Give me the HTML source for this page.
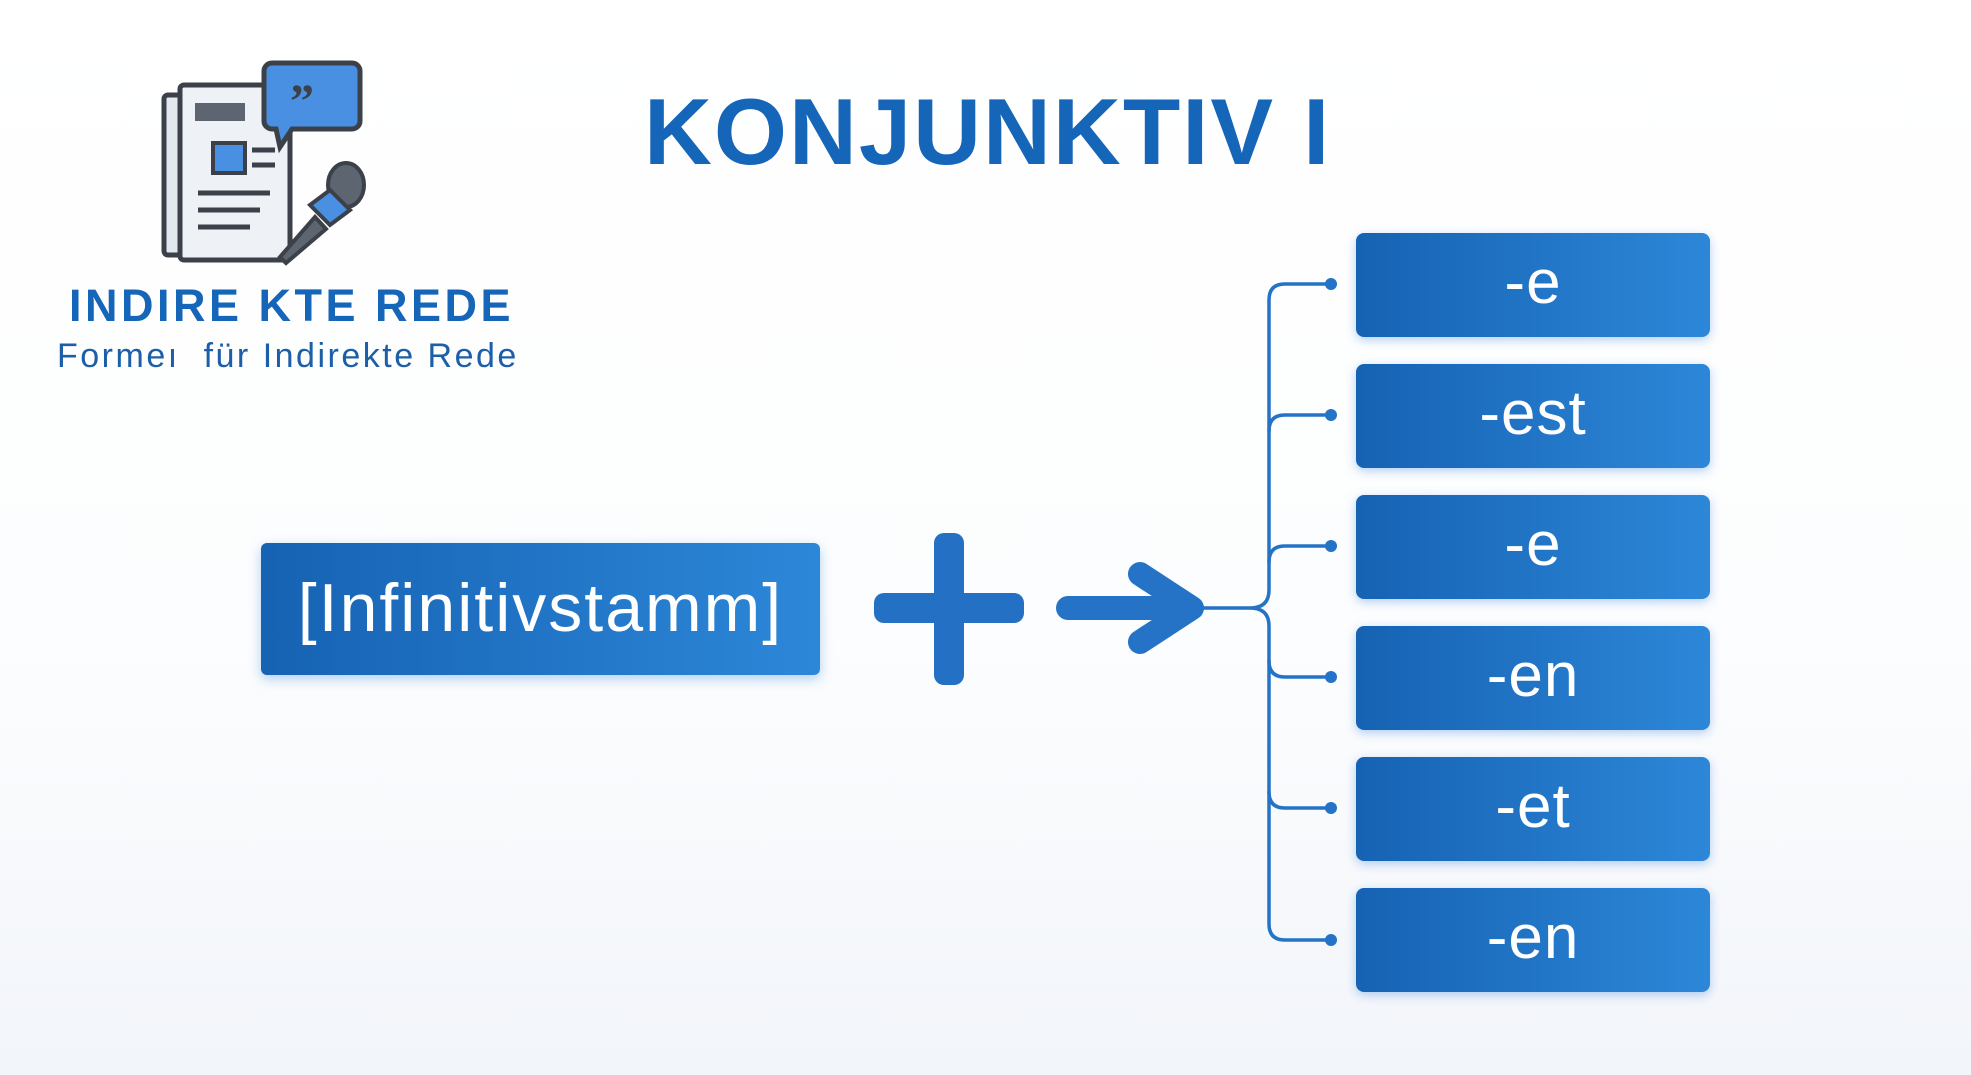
<!DOCTYPE html>
<html><head><meta charset="utf-8"><style>
body{margin:0;width:1971px;height:1075px;overflow:hidden;background:linear-gradient(#fff 0%,#fcfdfe 60%,#f2f5fa 100%);font-family:"Liberation Sans",sans-serif;position:relative}
.t{position:absolute;white-space:nowrap}
.box{position:absolute;left:1356px;width:354px;height:104px;border-radius:8px;background:linear-gradient(90deg,#1662b3,#2d87d8);box-shadow:0 3px 10px rgba(40,120,220,.35);color:#fff;font-size:62px;text-align:center;line-height:100px;letter-spacing:1px}
</style></head><body>
<div class="t" style="left:644px;top:78px;font-size:94px;font-weight:bold;color:#1565b8;letter-spacing:2px">KONJUNKTIV I</div>
<svg style="position:absolute;left:150px;top:55px" width="230" height="220" viewBox="0 0 230 220">
<rect x="14" y="40" width="30" height="160" rx="4" fill="#e3e7ee" stroke="#3b4049" stroke-width="5"/>
<rect x="30" y="30" width="110" height="175" rx="4" fill="#eef1f6" stroke="#3b4049" stroke-width="5"/>
<rect x="45" y="48" width="50" height="18" fill="#5d6670"/>
<rect x="63" y="88" width="32" height="30" fill="#4a90e2" stroke="#3b4049" stroke-width="4"/>
<g stroke="#3b4049" stroke-width="5"><line x1="102" y1="95" x2="125" y2="95"/><line x1="102" y1="110" x2="125" y2="110"/><line x1="48" y1="138" x2="120" y2="138"/><line x1="48" y1="155" x2="110" y2="155"/><line x1="48" y1="172" x2="100" y2="172"/></g>
<path d="M122 8h80a8 8 0 0 1 8 8v50a8 8 0 0 1-8 8h-60l-12 18-4-18h-4a8 8 0 0 1-8-8v-50a8 8 0 0 1 8-8z" fill="#4a90e2" stroke="#3b4049" stroke-width="5"/>
<text x="140" y="62" font-size="48" font-weight="bold" fill="#3b4049" font-family="Liberation Serif">”</text>
<ellipse cx="196" cy="130" rx="18" ry="22" fill="#5d6670" stroke="#3b4049" stroke-width="4"/>
<path d="M160 150 l20 -15 20 20 -20 15z" fill="#4a90e2" stroke="#3b4049" stroke-width="4"/>
<path d="M165 162 l-35 40 6 6 40 -34z" fill="#5d6670" stroke="#3b4049" stroke-width="4"/>
</svg>
<div class="t" style="left:69px;top:280px;font-size:45px;font-weight:bold;color:#1565b8;letter-spacing:3.5px">INDIRE KTE REDE</div>
<div class="t" style="left:57px;top:337px;font-size:34px;color:#1c5fa8;letter-spacing:2.5px">Formeı&nbsp; für Indirekte Rede</div>
<div style="position:absolute;left:261px;top:543px;width:559px;height:132px;border-radius:6px;background:linear-gradient(90deg,#1662b3,#2d87d8);box-shadow:0 4px 12px rgba(40,120,220,.35);color:#fff;font-size:68px;text-align:center;line-height:130px;letter-spacing:2px">[Infinitivstamm]</div>
<div style="position:absolute;left:874px;top:593px;width:150px;height:30px;border-radius:10px;background:#2470c4"></div>
<div style="position:absolute;left:934px;top:533px;width:30px;height:152px;border-radius:10px;background:#2470c4"></div>
<svg style="position:absolute;left:0;top:0" width="1971" height="1075">
<g fill="none" stroke="#2473c6" stroke-linecap="round" stroke-linejoin="round">
<path d="M1068 608 H1175 M1140 574 L1192 608 L1140 642" stroke-width="24"/>
<path d="M1195 608 H1250 Q1269 608 1269 590 V300 Q1269 284 1285 284 H1331 M1250 608 Q1269 608 1269 626 V924 Q1269 940 1285 940 H1331" stroke-width="3.5"/>
<path d="M1269 431 Q1269 415 1285 415 H1331 M1269 562 Q1269 546 1285 546 H1331 M1269 661 Q1269 677 1285 677 H1331 M1269 792 Q1269 808 1285 808 H1331" stroke-width="3.5"/>
</g>
<g fill="#2473c6"><circle cx="1331" cy="284" r="6"/><circle cx="1331" cy="415" r="6"/><circle cx="1331" cy="546" r="6"/><circle cx="1331" cy="677" r="6"/><circle cx="1331" cy="808" r="6"/><circle cx="1331" cy="940" r="6"/></g>
</svg>
<div class="box" style="top:233px">-e</div>
<div class="box" style="top:364px">-est</div>
<div class="box" style="top:495px">-e</div>
<div class="box" style="top:626px">-en</div>
<div class="box" style="top:757px">-et</div>
<div class="box" style="top:888px">-en</div>
</body></html>
